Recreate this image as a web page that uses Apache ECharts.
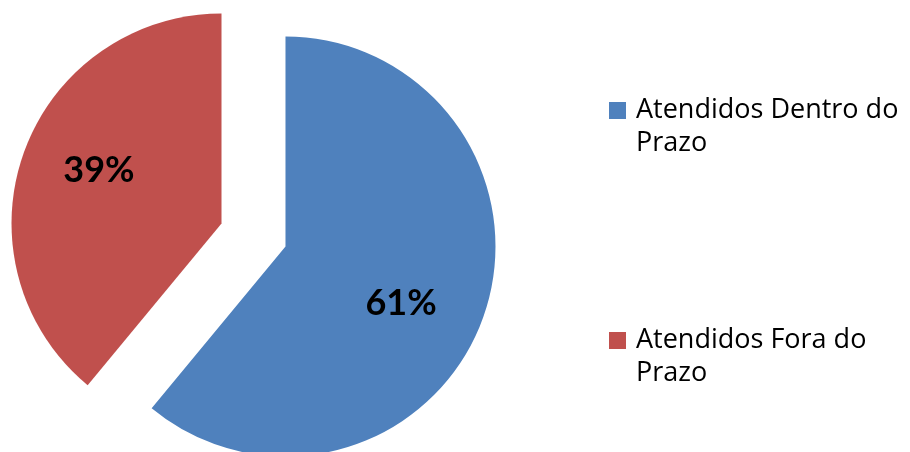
<!DOCTYPE html>
<html>
<head>
<meta charset="utf-8">
<script src="https://cdn.jsdelivr.net/npm/echarts@6/dist/echarts.min.js"></script>
<style>
  html, body { margin: 0; padding: 0; background: #fff; }
  #chart { width: 910px; height: 452px; }
</style>
</head>
<body>
<div id="chart"></div>
<script>
// Atendimentos: dentro e fora do prazo (%)
const categories = ['Atendidos Dentro do Prazo', 'Atendidos Fora do Prazo'];
const values = [61, 39];
const colors = ['#4F81BD', '#C0504D'];

// small nudges of each slice label away from its default inside spot
const labelShift = [[14, 20], [-21, -17]];

const chart = echarts.init(document.getElementById('chart'), null, { renderer: 'canvas' });

chart.setOption({
  animation: false,
  legend: {
    orient: 'vertical',
    left: 609,
    top: 61,
    padding: 0,
    icon: 'rect',
    itemWidth: 17,
    itemHeight: 17,
    itemGap: 131,
    selectedMode: false,
    // a blank first line keeps the swatch level with the first text line
    formatter: name => '\n' + name.replace(/ (\S+)$/, '\n$1'),
    textStyle: {
      fontFamily: 'Open Sans',
      fontSize: 27,
      color: '#000',
      lineHeight: 33,
      padding: [0, 0, 0, 5]
    }
  },
  series: [{
    type: 'pie',
    center: [253.5, 235],
    radius: 210,
    startAngle: 90,
    clockwise: true,
    selectedMode: 'multiple',
    selectedOffset: 34,
    emphasis: { disabled: true },
    label: {
      position: 'inside',
      formatter: '{c}%',
      fontFamily: 'Lato',
      fontWeight: 'bold',
      fontSize: 36,
      color: '#000'
    },
    labelLine: { show: false },
    labelLayout: params => ({
      dx: labelShift[params.dataIndex][0],
      dy: labelShift[params.dataIndex][1]
    }),
    data: categories.map((name, i) => ({
      name,
      value: values[i],
      selected: true,
      itemStyle: { color: colors[i] }
    }))
  }]
});
</script>
</body>
</html>
